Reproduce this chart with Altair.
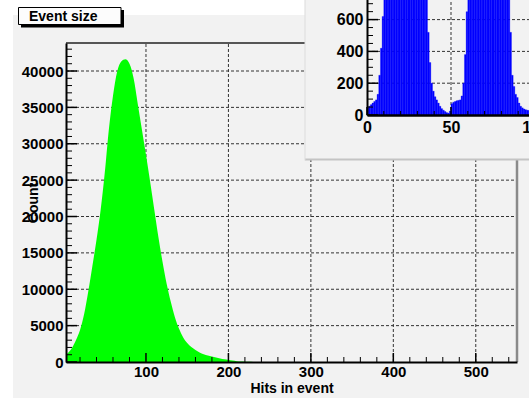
import altair as alt
import pandas as pd

TITLE = "Event size"
X_TITLE = "Hits in event"
Y_TITLE = "Count"

# main histogram (green): hits in event vs count
HITS = [3, 5, 10, 15, 20, 25, 30, 35, 40, 45, 50, 55, 60, 65, 70, 75, 80, 85, 90, 95,
        100, 105, 110, 115, 120, 125, 130, 135, 140, 145, 150, 155, 160, 165, 170, 175,
        180, 185, 190, 195, 200, 205, 210, 215, 220, 225, 230, 235, 240]
COUNTS = [1000, 1200, 1900, 3000, 4400, 6600, 9700, 13200, 16800, 20900, 26000, 32000,
          36600, 39900, 41300, 41600, 41000, 39000, 35500, 32000,
          28500, 24800, 21000, 17200, 13800, 10800, 8300, 6200, 4600, 3400, 2600, 2050,
          1650, 1300, 1080, 900,
          750, 620, 490, 380, 280, 190, 120, 70, 40, 20, 10, 5, 0]

X_LABELS = [100, 200, 300, 400, 500]
X_MINOR = [v for v in range(20, 550, 20) if v % 100 != 0]
Y_LABELS = [0, 5000, 10000, 15000, 20000, 25000, 30000, 35000, 40000]
Y_MINOR = [v for v in range(1000, 44000, 1000) if v % 5000 != 0]

# inset histogram (blue): 100 bins of width 1
INSET_EDGES = list(range(101))
INSET_COUNTS = [45, 55, 65, 75, 85, 95, 130, 250, 420, 620, 800, 950,
                1080, 1180, 1260, 1320, 1370, 1400, 1420, 1430, 1430, 1420, 1400, 1380,
                1350, 1320, 1290, 1260, 1230, 1200, 1160, 1120, 1080, 1030,
                950, 780, 520, 330, 200, 150, 115, 95, 75, 55, 40, 30, 22, 15, 12,
                25, 70, 80, 85, 90, 92, 95, 120, 200, 380, 650, 850,
                1000, 1100, 1180, 1250, 1300, 1340, 1370, 1390, 1400, 1400, 1390, 1370,
                1350, 1320, 1290, 1260, 1220, 1180, 1140, 1100, 1050, 1000, 930,
                800, 520, 250, 180, 130, 110, 75, 55, 45, 38, 33, 30, 28, 25, 20, 15]
INSET_X_LABELS = [0, 50, 100]
INSET_X_MINOR = [10, 20, 30, 40, 60, 70, 80, 90]
INSET_Y_LABELS = [0, 200, 400, 600, 800]
INSET_Y_MINOR = [v for v in range(50, 1000, 50) if v % 200 != 0]

FONT = "Liberation Sans"
W, H = 451, 319
GRAY = "#f2f2f2"

MX = alt.Scale(domain=[3, 550], nice=False, zero=False)
MY = alt.Scale(domain=[0, 43850], nice=False, zero=False)
IX = alt.Scale(domain=[0, 100], range=[301, 469], nice=False, zero=False)
IY = alt.Scale(domain=[0, 1000], range=[72, -87], nice=False, zero=False)

one = pd.DataFrame({"k": [0]})
green_df = pd.DataFrame({"h": HITS, "c": COUNTS})
blue_df = pd.DataFrame({"lo": INSET_EDGES[:-1], "hi": INSET_EDGES[1:], "v": INSET_COUNTS})

def vals(lst):
    return pd.DataFrame({"v": lst})

# canvas
bg = alt.Chart(one).mark_rect(color=GRAY).encode(
    x=alt.value(-53), x2=alt.value(463), y=alt.value(-28), y2=alt.value(355))

grid_style = dict(color="#333333", strokeDash=[3, 2], strokeWidth=1)

gridv = alt.Chart(vals(X_LABELS)).mark_rule(**grid_style).encode(
    x=alt.X("v:Q", scale=MX, axis=None),
    y=alt.Y(datum=0, type="quantitative", scale=MY, axis=None),
    y2=alt.Y2(datum=43850))
gridh = alt.Chart(vals(Y_LABELS[1:])).mark_rule(**grid_style).encode(
    y=alt.Y("v:Q", scale=MY, axis=None),
    x=alt.X(datum=3, type="quantitative", scale=MX, axis=None),
    x2=alt.X2(datum=550))

frame_top = alt.Chart(one).mark_rule(color="#222222", strokeWidth=1.5).encode(
    y=alt.Y(datum=43850, type="quantitative", scale=MY, axis=None),
    x=alt.X(datum=3, type="quantitative", scale=MX, axis=None),
    x2=alt.X2(datum=550))
frame_right = alt.Chart(one).mark_rule(color="#8a8a8a", strokeWidth=2.5).encode(
    x=alt.X(datum=550, type="quantitative", scale=MX, axis=None),
    y=alt.Y(datum=0, type="quantitative", scale=MY, axis=None),
    y2=alt.Y2(datum=43850))

green = alt.Chart(green_df).mark_area(color="#00ff00", interpolate="monotone").encode(
    x=alt.X("h:Q", scale=MX, axis=alt.Axis(
        orient="bottom", values=X_LABELS, ticks=False, grid=False, domain=True,
        domainColor="black", domainWidth=2, labelFont=FONT, labelFontSize=15,
        labelFontWeight="bold", format="d",
        labelColor="black", labelPadding=2, labelFlush=False, labelOverlap=False,
        title=X_TITLE, titleFont=FONT, titleFontSize=14, titleFontWeight="bold",
        titleColor="black", titleY=30, titleBaseline="alphabetic", zindex=1)),
    y=alt.Y("c:Q", scale=MY, axis=alt.Axis(
        orient="left", values=Y_LABELS, ticks=False, grid=False, domain=True,
        domainColor="black", domainWidth=2, labelFont=FONT, labelFontSize=15,
        labelFontWeight="bold", format="d",
        labelColor="black", labelPadding=3, labelOverlap=False, labelFlush=False,
        title=Y_TITLE, titleFont=FONT, titleFontSize=14, titleFontWeight="bold",
        titleColor="black", titleX=-33, titleY=159.5, titleAngle=270,
        titleAlign="center", titleBaseline="middle", zindex=1)),
)

def xticks(lst, length, width, xs, ys, dval):
    return alt.Chart(vals(lst)).mark_rule(color="black", strokeWidth=width, y2Offset=-length).encode(
        x=alt.X("v:Q", scale=xs, axis=None),
        y=alt.Y(datum=dval, type="quantitative", scale=ys, axis=None),
        y2=alt.Y2(datum=dval))

def yticks(lst, length, width, xs, ys, dval):
    return alt.Chart(vals(lst)).mark_rule(color="black", strokeWidth=width, x2Offset=length).encode(
        y=alt.Y("v:Q", scale=ys, axis=None),
        x=alt.X(datum=dval, type="quantitative", scale=xs, axis=None),
        x2=alt.X2(datum=dval))

mt1 = xticks(X_LABELS, 9, 1.5, MX, MY, 0)
mt2 = xticks(X_MINOR, 5, 1, MX, MY, 0)
mt3 = yticks(Y_LABELS, 11, 1.5, MX, MY, 3)
mt4 = yticks(Y_MINOR, 6, 1, MX, MY, 3)

# inset pad
pad = alt.Chart(one).mark_rect(color=GRAY).encode(
    x=alt.value(239), x2=alt.value(463), y=alt.value(-43), y2=alt.value(117))
pad_shadow = alt.Chart(one).mark_rect(color="#c4c4c4").encode(
    x=alt.value(239), x2=alt.value(463), y=alt.value(115.5), y2=alt.value(117.5))
pad_left = alt.Chart(one).mark_rect(color="#dcdcdc").encode(
    x=alt.value(238.5), x2=alt.value(239.5), y=alt.value(-43), y2=alt.value(117.5))

igridh = alt.Chart(vals([200, 400, 600, 800])).mark_rule(**grid_style).encode(
    y=alt.Y("v:Q", scale=IY, axis=None),
    x=alt.X(datum=0, type="quantitative", scale=IX, axis=None),
    x2=alt.X2(datum=100))
igridv = alt.Chart(vals([50])).mark_rule(**grid_style).encode(
    x=alt.X("v:Q", scale=IX, axis=None),
    y=alt.Y(datum=0, type="quantitative", scale=IY, axis=None),
    y2=alt.Y2(datum=1000))

blue = alt.Chart(blue_df).mark_rect(color="#0000ff", stroke="#0000ff", strokeWidth=0.3).encode(
    x=alt.X("lo:Q", scale=IX, axis=alt.Axis(
        orient="bottom", offset=-247, values=INSET_X_LABELS, ticks=False, grid=False,
        domain=True, domainColor="black", domainWidth=2.5, labelFont=FONT,
        labelFontSize=16, labelFontWeight="bold", labelColor="black", labelPadding=4,
        labelFlush=False, labelOverlap=False, title=None, zindex=1)),
    x2="hi:Q",
    y=alt.Y("v:Q", scale=IY, axis=alt.Axis(
        orient="left", offset=-301, values=INSET_Y_LABELS, ticks=False, grid=False,
        domain=True, domainColor="black", domainWidth=2, labelFont=FONT,
        labelFontSize=16, labelFontWeight="bold", labelColor="black", labelPadding=4,
        labelFlush=False, labelOverlap=False, title=None, zindex=1)),
    y2=alt.Y2(datum=0),
)

it1 = xticks(INSET_X_LABELS, 8, 1.5, IX, IY, 0)
it2 = xticks(INSET_X_MINOR, 4, 1, IX, IY, 0)
it3 = yticks(INSET_Y_LABELS, 11, 1.5, IX, IY, 0)
it4 = yticks(INSET_Y_MINOR, 6, 1, IX, IY, 0)

# title box
tshadow = alt.Chart(one).mark_rect(color="black").encode(
    x=alt.value(-45), x2=alt.value(58), y=alt.value(-33), y2=alt.value(-15.5))
tbox = alt.Chart(one).mark_rect(fill="#fcfcfc", stroke="black", strokeWidth=1).encode(
    x=alt.value(-47.5), x2=alt.value(55), y=alt.value(-35.5), y2=alt.value(-18.5))
ttext = alt.Chart(pd.DataFrame({"t": [TITLE]})).mark_text(
    align="left", baseline="alphabetic", font=FONT, fontSize=14, fontWeight="bold",
    color="black").encode(text="t:N", x=alt.value(-37), y=alt.value(-22))

chart = alt.layer(
    bg, gridv, gridh, frame_top, frame_right, green, mt1, mt2, mt3, mt4,
    pad, pad_shadow, pad_left, igridh, igridv, blue, it1, it2, it3, it4,
    tshadow, tbox, ttext,
).resolve_scale(x="independent", y="independent").properties(
    width=W, height=H, autosize="none",
    padding={"left": 66, "top": 43, "right": 12, "bottom": 38},
).configure(background="white").configure_view(stroke="transparent")

chart.save("out.html", embed_options={"renderer": "svg", "actions": False})
